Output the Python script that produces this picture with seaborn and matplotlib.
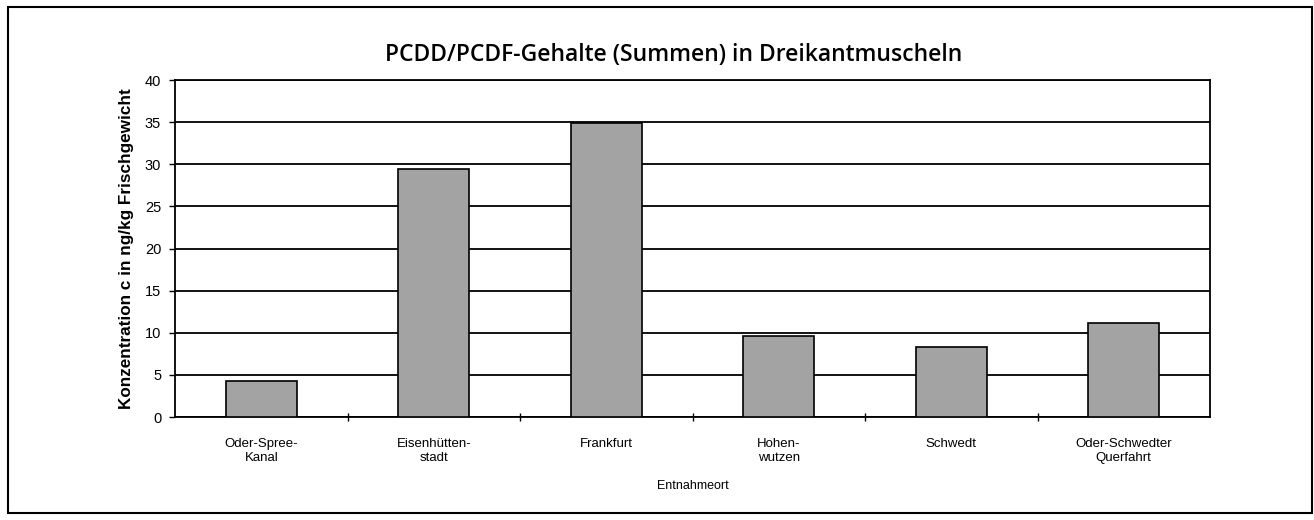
import pandas as pd
import numpy as np
import matplotlib
matplotlib.use("Agg")
import matplotlib.pyplot as plt
import seaborn as sns
from matplotlib.patches import Rectangle
from matplotlib.ticker import FixedLocator

# Daten
orte = ['Oder-Spree-\nKanal', 'Eisenhütten-\nstadt', 'Frankfurt',
        'Hohen-\nwutzen', 'Schwedt', 'Oder-Schwedter\nQuerfahrt']
konzentration = [4.3, 29.5, 34.9, 9.6, 8.3, 11.2]

df = pd.DataFrame({'Entnahmeort': orte, 'Konzentration': konzentration})

sns.set_theme(style="white")
plt.rcParams['font.family'] = ['Liberation Sans', 'DejaVu Sans']
plt.rcParams['text.color'] = 'black'
plt.rcParams['axes.labelcolor'] = 'black'

fig = plt.figure(figsize=(13.14, 5.2), dpi=100)
ax = fig.add_axes([0.1332, 0.198, 0.7877, 0.648])

sns.barplot(data=df, x='Entnahmeort', y='Konzentration', color='#a3a3a3',
            edgecolor='black', linewidth=1.2, width=0.41, saturation=1, ax=ax, zorder=3)

ax.set_ylim(0, 40)
ax.set_yticks(np.arange(0, 41, 5))
ax.set_xlim(-0.5, len(orte) - 0.5)
ax.yaxis.grid(True, color='black', linewidth=1.3, zorder=0)
ax.set_axisbelow(True)

for s in ax.spines.values():
    s.set_visible(True)
    s.set_color('black')
    s.set_linewidth(1.3)

ax.tick_params(axis='y', left=True, length=4, width=1, colors='black', labelsize=10.5, pad=6)
ax.tick_params(axis='x', bottom=False, labelsize=9.5, colors='black', pad=9)
# Teilstriche zwischen den Kategorien
ax.xaxis.set_minor_locator(FixedLocator(np.arange(0.5, len(orte) - 0.5, 1)))
ax.tick_params(axis='x', which='minor', bottom=True, direction='inout', length=6, width=1, color='black')

ax.set_ylabel('Konzentration c in ng/kg Frischgewicht', fontsize=12.3, fontweight='bold', labelpad=8)
ax.set_xlabel('Entnahmeort', fontsize=9, labelpad=12)

fig.text(0.513, 0.895, 'PCDD/PCDF-Gehalte (Summen) in Dreikantmuscheln',
         ha='center', va='center', fontsize=16.5, fontweight='semibold',
         color='black', family=['Open Sans', 'DejaVu Sans'])

# Rahmen um die gesamte Grafik
fig.patches.append(Rectangle((8 / 1314, 7 / 520), 1304 / 1314, 506 / 520,
                             transform=fig.transFigure, fill=False,
                             edgecolor='black', linewidth=1.5))

fig.savefig('out.png', dpi=100)
